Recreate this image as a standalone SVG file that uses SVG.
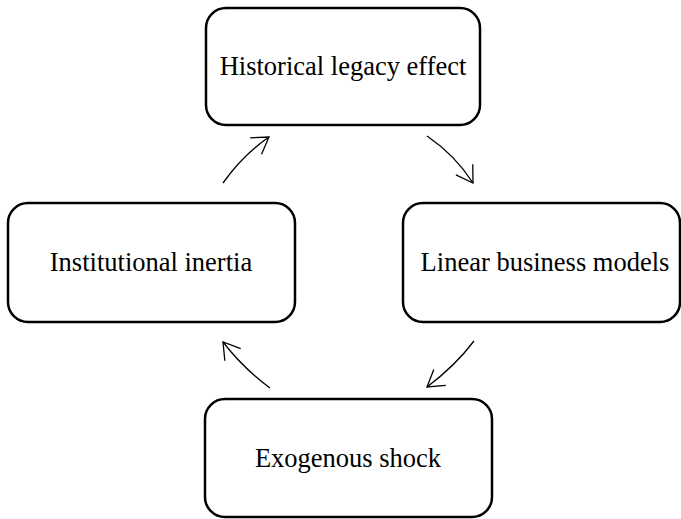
<svg xmlns="http://www.w3.org/2000/svg" width="681" height="519" viewBox="0 0 681 519">
<style>
.box{fill:#fff;stroke:#000;stroke-width:2.5}
.lbl{font-family:"Liberation Serif","Times New Roman",serif;font-size:26.5px;fill:#000;text-anchor:middle}
.arr{fill:none;stroke:#000;stroke-width:1.3;marker-end:url(#ah)}
</style>
<defs>
<marker id="ah" markerUnits="userSpaceOnUse" markerWidth="40" markerHeight="40" refX="0" refY="0" orient="auto" overflow="visible">
<path d="M-16,-10 L0,0 L-16,10" fill="none" stroke="#000" stroke-width="1.3"/>
</marker>
</defs>
<rect width="681" height="519" fill="#fff"/>
<g id="connectors">
<path class="arr" d="M223,183 Q243,155 269,137"/>
<path class="arr" d="M427,136 Q455,155 473,183"/>
<path class="arr" d="M474,341 Q455,366 427,387"/>
<path class="arr" d="M270,388 Q243,368 223,342"/>
</g>
<g id="historical">
<rect class="box" x="206" y="8" width="274" height="117" rx="20"/>
<text class="lbl" x="343" y="75">Historical legacy effect</text>
</g>
<g id="linear">
<rect class="box" x="403" y="203" width="277" height="119" rx="20"/>
<text class="lbl" x="545" y="271">Linear business models</text>
</g>
<g id="institutional">
<rect class="box" x="8" y="203" width="287" height="119" rx="20"/>
<text class="lbl" x="151" y="271">Institutional inertia</text>
</g>
<g id="exogenous">
<rect class="box" x="205" y="399" width="287" height="118" rx="20"/>
<text class="lbl" x="348" y="467">Exogenous shock</text>
</g>
</svg>
